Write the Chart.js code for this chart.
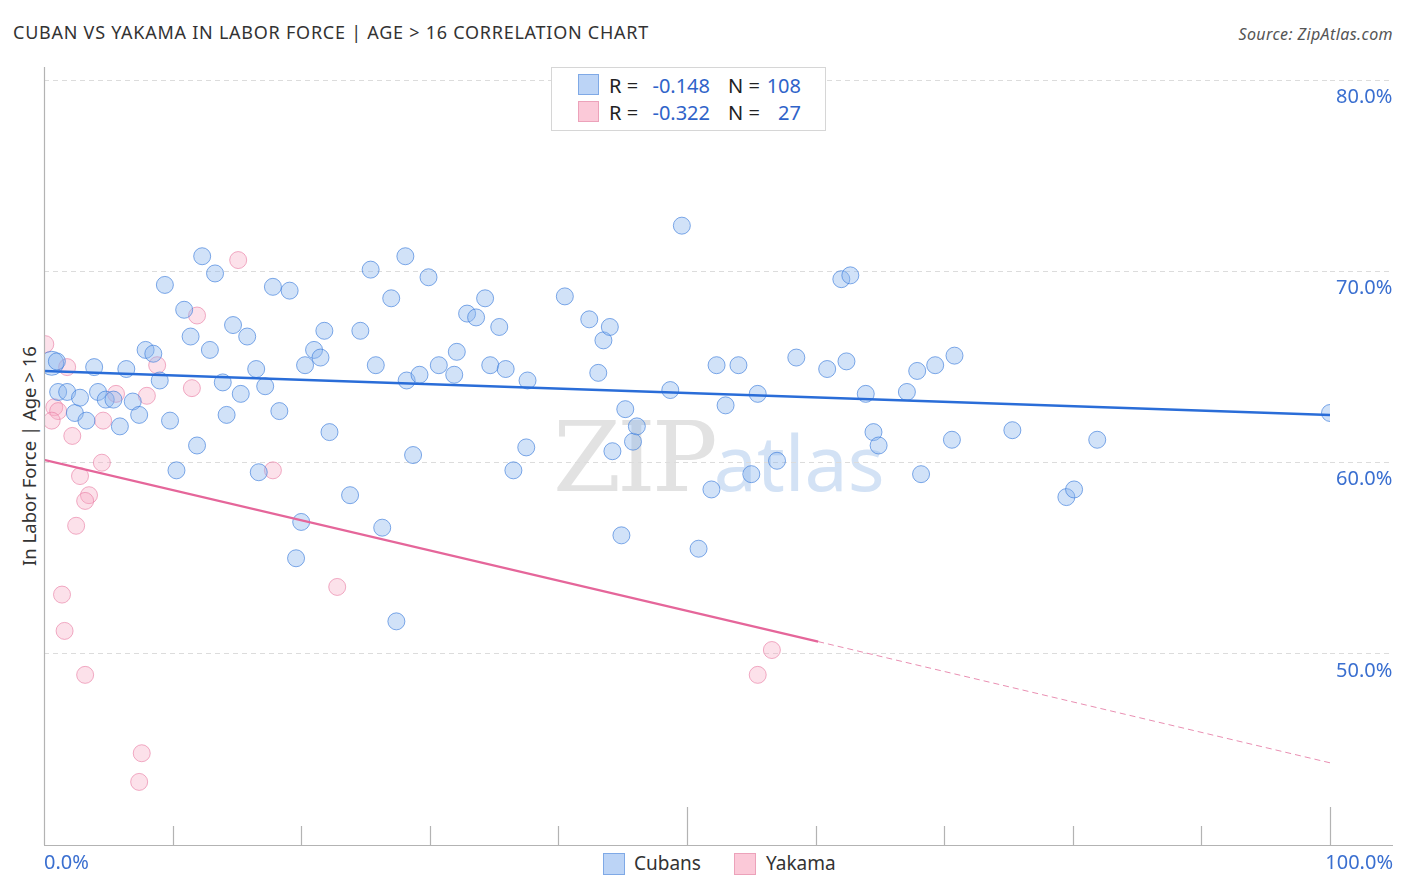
<!DOCTYPE html>
<html>
<head>
<meta charset="utf-8">
<script src="https://cdn.jsdelivr.net/npm/chart.js@4.4.1/dist/chart.umd.min.js"></script>
<style>
body{margin:0;background:#fff;font-family:"Noto Sans",sans-serif;}
#wrap{position:relative;width:1406px;height:892px;overflow:hidden;}
#c{position:absolute;left:0;top:0;z-index:2;}
.abs{position:absolute;white-space:nowrap;}
#title{left:13px;top:20px;font-size:18px;letter-spacing:0.75px;color:#333;}
#source{right:13px;top:23px;font-size:16px;letter-spacing:0.4px;color:#555;font-style:italic;}
#ytitle{left:28px;top:456px;font-size:18.5px;color:#333;transform:translate(-50%,-50%) rotate(-90deg);}
#wm{left:553px;top:400px;z-index:1;}
#wm .zip{font-family:"DejaVu Serif","Liberation Serif",serif;font-size:98px;color:#e2e2e2;letter-spacing:-4px;}
#wm .atlas{font-family:"Noto Sans",sans-serif;font-size:77px;color:#d3e2f5;}
#legbox{left:551px;top:67px;width:273px;height:62px;border:1px solid #d6d6d6;background:#fff;z-index:3;}
.row{position:absolute;left:0;height:24px;font-size:20px;color:#222;}
.sq{position:absolute;width:19px;height:19px;top:2px;}
.v{position:absolute;text-align:right;color:#2f63c9;}
#bottomleg{left:0;top:851px;width:1406px;height:26px;font-size:19px;color:#333;}
</style>
</head>
<body>
<div id="wrap">
  <div class="abs" id="title">CUBAN VS YAKAMA IN LABOR FORCE | AGE &gt; 16 CORRELATION CHART</div>
  <div class="abs" id="source">Source: ZipAtlas.com</div>
  <div class="abs" id="ytitle">In Labor Force | Age &gt; 16</div>
  <div class="abs" id="wm"><span class="zip">ZIP</span><span class="atlas">atlas</span></div>
  <canvas id="c" width="1406" height="892"></canvas>
  <div class="abs" id="legbox">
    <div class="row" style="top:4px;width:273px">
      <div class="sq" style="left:26px;background:#bcd4f6;border:1px solid #7fa9e6"></div>
      <span class="abs" style="left:57px">R =</span>
      <span class="v" id="r1" style="left:88px;width:70px"></span>
      <span class="abs" style="left:176px">N =</span>
      <span class="v" id="n1" style="left:198px;width:51px"></span>
    </div>
    <div class="row" style="top:31px;width:273px">
      <div class="sq" style="left:26px;background:#fbc9d8;border:1px solid #eca2ba"></div>
      <span class="abs" style="left:57px">R =</span>
      <span class="v" id="r2" style="left:88px;width:70px"></span>
      <span class="abs" style="left:176px">N =</span>
      <span class="v" id="n2" style="left:198px;width:51px"></span>
    </div>
  </div>
  <div class="abs" id="bottomleg">
    <div class="sq" style="left:603px;top:2px;width:20px;height:20px;background:#bcd4f6;border:1px solid #7fa9e6"></div>
    <span class="abs" style="left:634px;top:-1px">Cubans</span>
    <div class="sq" style="left:734px;top:2px;width:20px;height:20px;background:#fbc9d8;border:1px solid #eca2ba"></div>
    <span class="abs" style="left:766px;top:-1px">Yakama</span>
  </div>
</div>
<script>
/* ===== DATA ===== */
const cubansX=[0.6,1.0,1.1,1.8,2.4,2.8,3.3,3.9,4.2,4.8,
  5.4,5.9,6.4,6.9,7.4,7.9,8.5,9.0,9.4,9.8,
  10.3,10.9,11.4,11.9,12.3,12.9,13.3,13.9,14.2,14.7,
  15.3,15.8,16.5,16.7,17.2,17.8,18.3,19.1,19.6,20.0,
  20.3,21.0,21.5,21.8,22.2,23.8,24.6,25.4,25.8,26.3,
  27.0,27.4,28.1,28.2,28.7,29.2,29.9,30.7,31.9,32.1,
  32.9,33.6,34.3,34.7,35.4,35.9,36.5,37.5,37.6,40.5,
  42.4,43.1,43.5,44.0,44.2,44.9,45.2,45.8,46.1,48.7,
  49.6,50.9,51.9,52.3,53.0,54.0,55.0,55.5,57.0,58.5,
  60.9,62.0,62.7,62.4,63.9,64.5,64.9,67.1,67.9,68.2,
  69.3,70.6,70.8,75.3,79.5,80.1,81.9,100.0];
const cubansY=[65.2,65.3,63.7,63.7,62.6,63.4,62.2,65.0,63.7,63.3,
  63.3,61.9,64.9,63.2,62.5,65.9,65.7,64.3,69.3,62.2,
  59.6,68.0,66.6,60.9,70.8,65.9,69.9,64.2,62.5,67.2,
  63.6,66.6,64.9,59.5,64.0,69.2,62.7,69.0,55.0,56.9,
  65.1,65.9,65.5,66.9,61.6,58.3,66.9,70.1,65.1,56.6,
  68.6,51.7,70.8,64.3,60.4,64.6,69.7,65.1,64.6,65.8,
  67.8,67.6,68.6,65.1,67.1,64.9,59.6,60.8,64.3,68.7,
  67.5,64.7,66.4,67.1,60.6,56.2,62.8,61.1,61.9,63.8,
  72.4,55.5,58.6,65.1,63.0,65.1,59.4,63.6,60.1,65.5,
  64.9,69.6,69.8,65.3,63.6,61.6,60.9,63.7,64.8,59.4,
  65.1,61.2,65.6,61.7,58.2,58.6,61.2,62.6];
const yakamaX=[0.1,1.8,0.8,1.1,0.6,2.2,4.6,5.6,8.0,8.8,11.5,11.9,15.1,4.5,
  2.8,3.5,3.2,2.5,1.4,1.6,3.2,7.6,7.4,17.8,22.8,56.6,55.5];
const yakamaY=[66.2,65.0,62.9,62.7,62.2,61.4,62.2,63.6,63.5,65.1,63.9,67.7,70.6,60.0,
  59.3,58.3,58.0,56.7,53.1,51.2,48.9,44.8,43.3,59.6,53.5,50.2,48.9];

const cubansFitX=[0,100];
const cubansFitY=[64.8,62.5];
const yakamaFitX=[0,60.2];
const yakamaFitY=[60.15,50.64];
const yakamaDashX=[60.2,100];
const yakamaDashY=[50.64,44.3];

const yTicks=[50,60,70,80];
const xTicks=[10,20,30,40,50,60,70,80,90,100];
const stats={r1:"-0.148",n1:"108",r2:"-0.322",n2:"27"};

/* ===== LEGEND TEXT ===== */
for(const k in stats) document.getElementById(k).innerText=stats[k];

const pts=(xs,ys)=>xs.map((x,i)=>({x,y:ys[i]}));

/* ===== AXIS LINES / X TICKS ===== */
const axisPlugin={
  id:"axisPlugin",
  afterDraw(chart){
    const {ctx,chartArea:a,scales:{x}}=chart;
    ctx.save();
    ctx.strokeStyle="#b3b3b3";
    ctx.lineWidth=1.2;
    ctx.beginPath();
    ctx.moveTo(a.left+0.5,a.top);ctx.lineTo(a.left+0.5,a.bottom);
    ctx.moveTo(a.left,a.bottom+0.5);ctx.lineTo(chart.width-13,a.bottom+0.5);
    xTicks.forEach(v=>{
      const px=Math.round(x.getPixelForValue(v))+0.5;
      const len=v%50===0?38:19;
      ctx.moveTo(px,a.bottom);ctx.lineTo(px,a.bottom-len);
    });
    ctx.stroke();
    ctx.fillStyle="#3a6fd0";
    ctx.font="20px 'Noto Sans'";
    ctx.textBaseline="middle";
    ctx.textAlign="left";
    ctx.fillText("0.0%",x.getPixelForValue(0),a.bottom+18);
    ctx.textAlign="right";
    ctx.fillText("100.0%",chart.width-13,a.bottom+18);
    ctx.restore();
  }
};

/* ===== CHART ===== */
new Chart(document.getElementById("c"),{
  type:"scatter",
  data:{datasets:[
    {label:"Cubans fit",type:"line",data:pts(cubansFitX,cubansFitY),borderColor:"#2a6dd8",borderWidth:2.5,pointRadius:0,order:0},
    {label:"Yakama fit",type:"line",data:pts(yakamaFitX,yakamaFitY),borderColor:"#e5669a",borderWidth:2.2,pointRadius:0,order:0},
    {label:"Yakama fit ext",type:"line",data:pts(yakamaDashX,yakamaDashY),borderColor:"#e98fb2",borderWidth:1,borderDash:[6,4],pointRadius:0,order:0},
    {label:"Yakama",data:pts(yakamaX,yakamaY),backgroundColor:"rgba(246,170,196,0.35)",borderColor:"rgba(232,120,160,0.6)",borderWidth:1,pointRadius:8.5,order:2},
    {label:"Cubans",data:pts(cubansX,cubansY),backgroundColor:"rgba(140,182,238,0.4)",borderColor:"rgba(60,125,220,0.65)",borderWidth:1,
      pointRadius:ctx=>ctx.dataIndex===0?12:8.5,order:1}
  ]},
  options:{
    responsive:false,
    animation:false,
    layout:{padding:{left:44,top:67,bottom:47,right:13}},
    plugins:{legend:{display:false},tooltip:{enabled:false}},
    scales:{
      x:{type:"linear",min:0,max:100,display:false},
      y:{
        type:"linear",position:"right",min:40,max:80.7,
        afterBuildTicks:s=>{s.ticks=yTicks.map(v=>({value:v}));},
        afterFit:s=>{s.width=63;},
        border:{display:false,dash:[5,4]},
        grid:{color:"#dcdcdc",lineWidth:1,drawTicks:true,tickLength:63,tickColor:"#dcdcdc",tickBorderDash:[5,4]},
        ticks:{padding:-57,crossAlign:"near",labelOffset:17,color:"#3a6fd0",
          font:{family:"Noto Sans",size:20},callback:v=>v.toFixed(1)+"%"}
      }
    }
  },
  plugins:[axisPlugin]
});
</script>
</body>
</html>
